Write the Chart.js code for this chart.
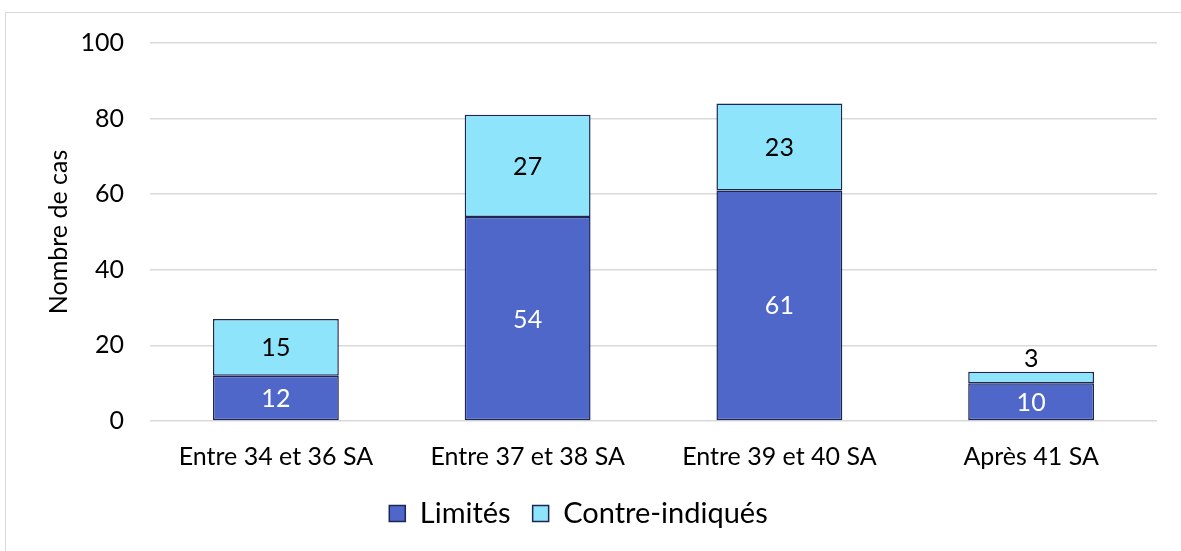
<!DOCTYPE html>
<html>
<head>
<meta charset="utf-8">
<script src="https://cdn.jsdelivr.net/npm/chart.js@4/dist/chart.umd.min.js"></script>
<style>
  html, body { margin: 0; padding: 0; background: #fff; }
  #wrap { position: relative; width: 1181px; height: 551px; overflow: hidden; }
  #frame { position: absolute; left: 5px; top: 12px; width: 1300px; height: 700px; border: 1.5px solid #d9d9d9; box-sizing: border-box; }
  #c { position: absolute; left: 0; top: 0; }
</style>
</head>
<body>
<div id="wrap">
  <div id="frame"></div>
  <canvas id="c" width="1181" height="551"></canvas>
</div>
<script>
const categories = ['Entre 34 et 36 SA', 'Entre 37 et 38 SA', 'Entre 39 et 40 SA', 'Après 41 SA'];
const limites = [12, 54, 61, 10];
const contreIndiques = [15, 27, 23, 3];
const yTicks = [0, 20, 40, 60, 80, 100];

const FONT = 'Lato, "Open Sans", sans-serif';

const labelPlugin = {
  id: 'segLabels',
  afterDatasetsDraw(chart) {
    const ctx = chart.ctx;
    ctx.save();
    ctx.font = '25px ' + FONT;
    ctx.textAlign = 'center';
    ctx.textBaseline = 'middle';
    chart.data.datasets.forEach((ds, di) => {
      const meta = chart.getDatasetMeta(di);
      meta.data.forEach((bar, i) => {
        const v = ds.data[i];
        const top = Math.min(bar.y, bar.base);
        const h = Math.abs(bar.base - bar.y);
        let y = top + h / 2;
        let color = di === 0 ? '#ffffff' : '#000000';
        if (h < 24) { y = top - 14; color = '#000000'; }
        ctx.fillStyle = color;
        ctx.fillText(String(v), bar.x, y + 1);
      });
    });
    ctx.restore();
  }
};

new Chart(document.getElementById('c'), {
  type: 'bar',
  data: {
    labels: categories,
    datasets: [
      { label: 'Limités', data: limites, backgroundColor: '#4F67C8', borderColor: '#1E2654', borderWidth: 1.5, borderSkipped: false, categoryPercentage: 1, barPercentage: 0.5 },
      { label: 'Contre-indiqués', data: contreIndiques, backgroundColor: '#8EE5FB', borderColor: '#1E2654', borderWidth: 1.5, borderSkipped: false, categoryPercentage: 1, barPercentage: 0.5 }
    ]
  },
  options: {
    responsive: false,
    animation: false,
    devicePixelRatio: 1,
    layout: { padding: { left: 0, right: 24, top: 43, bottom: 13 } },
    plugins: {
      legend: {
        position: 'bottom',
        labels: {
          font: { family: FONT, size: 29 },
          color: '#000',
          boxWidth: 16, boxHeight: 16,
          padding: 22,
          generateLabels(chart) {
            return chart.data.datasets.map((ds, i) => ({
              text: ds.label, fillStyle: ds.backgroundColor, strokeStyle: '#1E2654', lineWidth: 1.5, datasetIndex: i, fontColor: '#000'
            }));
          }
        }
      },
      tooltip: { enabled: false }
    },
    scales: {
      x: {
        stacked: true,
        grid: { display: false, drawTicks: false },
        border: { display: false },
        ticks: { font: { family: FONT, size: 25 }, color: '#000', padding: 21 },
        afterFit(s) { s.height = 56; }
      },
      y: {
        stacked: true,
        min: 0, max: 100,
        afterBuildTicks(s) { s.ticks = yTicks.map(v => ({ value: v })); },
        grid: { color: '#d9d9d9', lineWidth: 1.5, drawTicks: false },
        border: { display: false },
        ticks: { font: { family: FONT, size: 25 }, color: '#000', padding: 26 },
        title: { display: true, text: 'Nombre de cas', font: { family: FONT, size: 25 }, color: '#000', padding: { top: 44, bottom: 0 } },
        afterFit(s) { s.width = 150; }
      }
    }
  },
  plugins: [labelPlugin]
});
</script>
</body>
</html>
